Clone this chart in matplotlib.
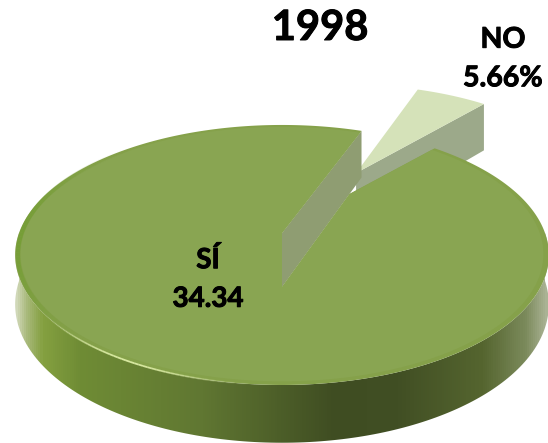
"""
1998 pie chart, drawn by hand as a tilted 3D disc with one exploded slice.
"""

import numpy as np
import matplotlib
matplotlib.use('Agg')
import matplotlib.pyplot as plt
import matplotlib.patheffects as pe
from matplotlib.collections import LineCollection
from matplotlib.colors import LinearSegmentedColormap
from matplotlib.patches import Polygon

# DATA
title = '1998'
slice_names = ['NO', 'SÍ']
slice_values = [5.66, 94.34]      # share of the disc, the remainder goes to SÍ
slice_labels = ['NO\n5.66%', 'SÍ\n34.34']   # as printed on the original

# DISC GEOMETRY (pixels)
CX, CY = 282.0, 233.0
A, B = 263.0, 126.3
K = 0.169
DEPTH = 48.0
NOTCH_DROP = 54.0
NO_DROP = 56.0
START = 20.5
EXPLODE = 0.60
NO_RADIUS = 0.95
KINK = 0.15


def project(u, v, drop=0.0):
    """Disc coordinates to picture pixels, with a simple perspective."""
    d = 1 + K * v
    return CX + A * u / d, CY - B * v / d + drop / d


def rim(theta_deg, radius=1.0, du=0.0, dv=0.0, drop=0.0):
    th = np.radians(theta_deg)
    x, y = project(du + radius * np.sin(th), dv + radius * np.cos(th), drop)
    return np.column_stack([x, y])


def rim_arc(ax, start, stop, rgb, peak, width, radius=1.0):
    """Tapered line along the rim, for the highlights."""
    arc = rim(np.linspace(start, stop, 60), radius)
    segments = np.stack([arc[:-1], arc[1:]], axis=1)
    colors = np.ones((len(segments), 4))
    colors[:, :3] = rgb
    colors[:, 3] = np.sin(np.linspace(0, np.pi, len(segments))) ** 2 * peak
    ax.add_collection(LineCollection(segments, colors=colors, linewidths=width, zorder=6))


sweeps = np.array(slice_values) / sum(slice_values) * 360
no_a, no_b = START, START + sweeps[0]
si_a, si_b = no_b, no_b + sweeps[1]

fig = plt.figure(figsize=(5.48, 4.43), dpi=100)
ax = fig.add_axes([0, 0, 1, 1])

# Exploded NO slice
mid = np.radians((no_a + no_b) / 2)
du, dv = EXPLODE * np.sin(mid), EXPLODE * np.cos(mid)
apex = np.array(project(du, dv))
apex_low = np.array(project(du, dv, NO_DROP))
no_outer = rim(np.linspace(no_a, no_b, 20), NO_RADIUS, du, dv)
no_outer_low = rim(np.linspace(no_a, no_b, 20), NO_RADIUS, du, dv, NO_DROP)
ax.add_patch(Polygon([apex, no_outer[-1], no_outer_low[-1], apex_low],
                     fc='#9ca98a', ec='none', zorder=1))
ax.add_patch(Polygon(np.vstack([apex, no_outer]), fc='#d5e2b9', ec='none', zorder=2))

# Side wall of the big slice, shaded along x
side_cmap = LinearSegmentedColormap.from_list('side', [
    (0.00, '#d0d8b8'), (0.02, '#a8b97a'), (0.05, '#84a040'), (0.12, '#6f8c35'),
    (0.35, '#607732'), (0.60, '#3f4d22'), (0.72, '#414f24'), (0.88, '#55652f'),
    (0.96, '#7b8a5b'), (1.00, '#aab394')])
angles = np.linspace(si_a, si_b, 361)
front = np.linspace(90, 270, 181)
side_outline = np.vstack([rim(front), rim(front, drop=DEPTH)[::-1]])
side_patch = Polygon(side_outline, fc='none', ec='none', transform=ax.transData)
ax.add_patch(side_patch)
gradient = np.linspace(0, 1, 533).reshape(1, -1)
side_img = ax.imshow(gradient, cmap=side_cmap, extent=(15, 548, 443, 230),
                     aspect='auto', zorder=3)
side_img.set_clip_path(side_patch)

# Cut wall on the left of the notch
corner_top = rim(np.array([si_b]))[0]
corner_low = rim(np.array([si_b]), drop=NOTCH_DROP)[0]
notch_top = np.array(project(0, 0))
notch_low = np.array(project(0, 0, NOTCH_DROP))
kink = corner_low + KINK * (notch_low - corner_low)
ax.add_patch(Polygon([corner_top, corner_low, notch_low, notch_top],
                     fc='#8f9d72', ec='none', zorder=4))

# Top face, with a faint bevel at the rim
for radius, color in [(1.0, '#85a14a'), (0.98, '#89a552')]:
    top = np.vstack([rim(angles, radius), notch_top, notch_low, kink])
    ax.add_patch(Polygon(top, fc=color, ec='none', zorder=5))

# Saturated bevel on the left, bright highlight along the front left rim
rim_arc(ax, 215, 320, (0.45, 0.62, 0.20), 0.8, 3.0, radius=0.99)
rim_arc(ax, 182, 238, (0.88, 0.94, 0.66), 0.9, 1.3)

ax.set_xlim(0, 548)
ax.set_ylim(443, 0)
ax.axis('off')

# Texts
heavy = [pe.withStroke(linewidth=0.7, foreground='black')]
ax.text(320, 28, title, ha='center', va='center', fontsize=30, fontweight='bold',
        family='Lato', color='black', path_effects=heavy, zorder=7)
ax.text(503, 59, slice_labels[0], ha='center', va='center', fontsize=20.5,
        fontweight='bold', family='Lato', linespacing=1.6, color='black',
        path_effects=heavy, zorder=7)
ax.text(208, 279, slice_labels[1], ha='center', va='center', fontsize=20,
        fontweight='bold', family='Lato', linespacing=1.6, color='black',
        path_effects=heavy, zorder=7)

fig.savefig('out.png', dpi=100)
